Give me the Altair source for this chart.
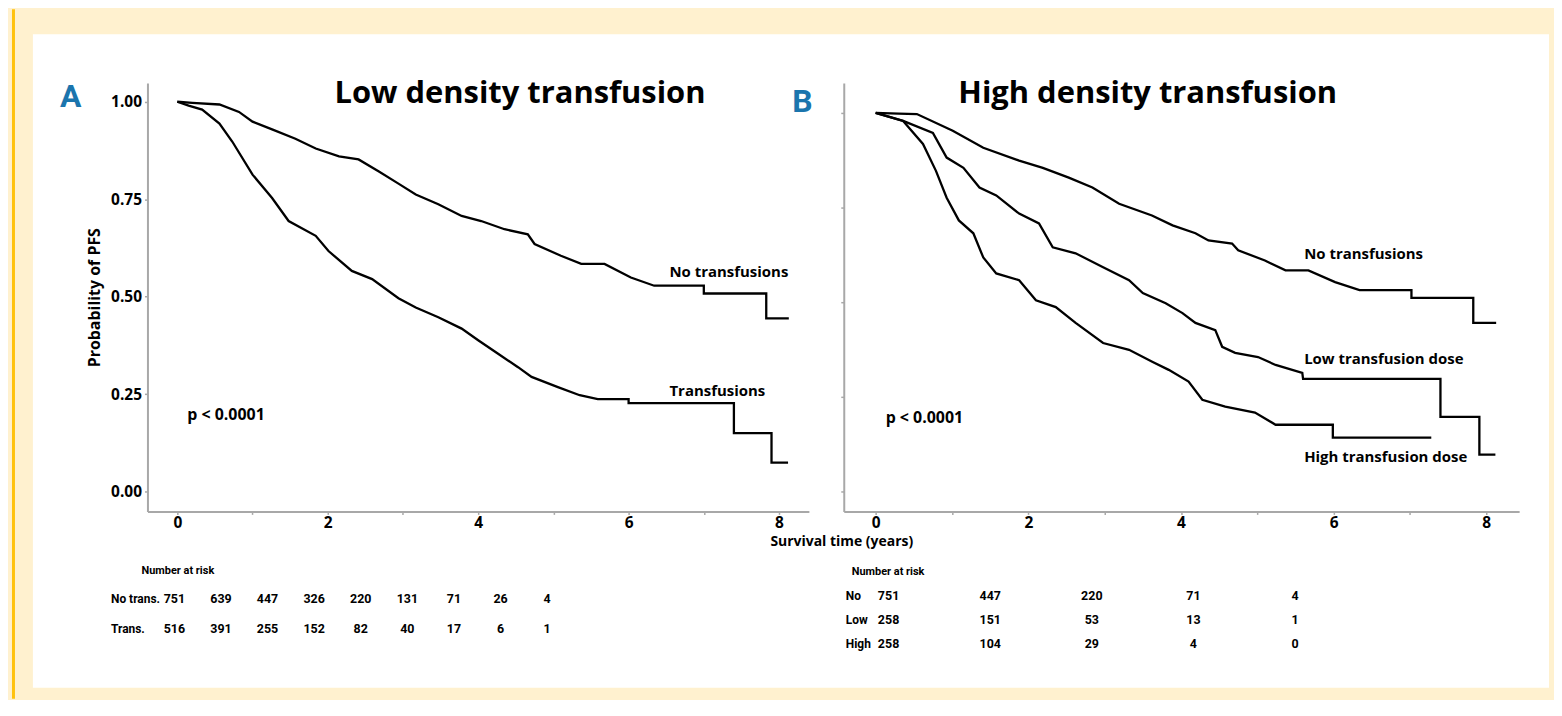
import altair as alt
import pandas as pd

# ---------------- data ----------------
# Panel A (low density transfusion)
a_no_t = [0, 0.2, 0.56, 0.82, 1.0, 1.26, 1.57, 1.84, 2.15, 2.41, 2.68, 2.94, 3.17, 3.47, 3.78, 4.04,
          4.35, 4.66, 4.75, 5.1, 5.37, 5.68, 6.03, 6.34, 7.0, 7.0, 7.83, 7.83, 8.13]
a_no_v = [1.0, 0.997, 0.993, 0.974, 0.949, 0.929, 0.905, 0.88, 0.86, 0.852, 0.821, 0.79, 0.762, 0.737, 0.707,
          0.694, 0.673, 0.66, 0.635, 0.605, 0.584, 0.584, 0.549, 0.528, 0.528, 0.508, 0.508, 0.444, 0.444]
a_tr_t = [0, 0.15, 0.33, 0.56, 0.73, 1.0, 1.26, 1.48, 1.84, 2.01, 2.32, 2.59, 2.94, 3.17, 3.47, 3.78, 4.0,
          4.26, 4.53, 4.71, 5.06, 5.35, 5.59, 6.0, 6.0, 7.4, 7.4, 7.9, 7.9, 8.12]
a_tr_v = [1.0, 0.99, 0.98, 0.944, 0.898, 0.813, 0.753, 0.694, 0.656, 0.617, 0.566, 0.545, 0.496, 0.472, 0.447,
          0.418, 0.388, 0.354, 0.319, 0.294, 0.268, 0.247, 0.237, 0.237, 0.227, 0.227, 0.150, 0.150, 0.074, 0.074]

# Panel B (high density transfusion)
b_no_t = [0, 0.3, 0.54, 1.01, 1.41, 1.88, 2.19, 2.53, 2.84, 3.19, 3.62, 3.89, 4.19, 4.36, 4.67, 4.75, 5.1,
          5.37, 5.67, 6.02, 6.34, 7.02, 7.02, 7.83, 7.83, 8.13]
b_no_v = [1.0, 0.998, 0.997, 0.953, 0.908, 0.874, 0.855, 0.829, 0.803, 0.76, 0.729, 0.703, 0.682, 0.663,
          0.655, 0.637, 0.61, 0.584, 0.584, 0.553, 0.532, 0.532, 0.511, 0.511, 0.445, 0.445]
b_lo_t = [0, 0.36, 0.75, 0.93, 1.15, 1.36, 1.58, 1.88, 2.14, 2.32, 2.62, 2.98, 3.32, 3.5, 3.8, 4.02, 4.19,
          4.45, 4.54, 4.71, 5.01, 5.24, 5.59, 5.6, 7.4, 7.4, 7.91, 7.91, 8.12]
b_lo_v = [1.0, 0.979, 0.947, 0.882, 0.855, 0.803, 0.782, 0.734, 0.708, 0.645, 0.629, 0.592, 0.558, 0.524,
          0.497, 0.471, 0.445, 0.426, 0.382, 0.366, 0.355, 0.334, 0.313, 0.297, 0.297, 0.197, 0.197, 0.097, 0.097]
b_hi_t = [0, 0.36, 0.62, 0.79, 0.93, 1.09, 1.28, 1.41, 1.58, 1.88, 2.1, 2.36, 2.62, 2.98, 3.32, 3.63, 3.84,
          4.1, 4.28, 4.58, 4.97, 5.24, 5.99, 5.99, 7.28]
b_hi_v = [1.0, 0.979, 0.918, 0.847, 0.776, 0.716, 0.682, 0.618, 0.576, 0.558, 0.505, 0.487, 0.445, 0.392,
          0.374, 0.342, 0.321, 0.29, 0.242, 0.224, 0.208, 0.176, 0.176, 0.142, 0.142]

# Number-at-risk tables
a_risk_times = [0, 1, 2, 3, 4, 5, 6, 7, 8]
a_risk_no = [751, 639, 447, 326, 220, 131, 71, 26, 4]
a_risk_trans = [516, 391, 255, 152, 82, 40, 17, 6, 1]
b_risk_times = [0, 2, 4, 6, 8]
b_risk_no = [751, 447, 220, 71, 4]
b_risk_low = [258, 151, 53, 13, 1]
b_risk_high = [258, 104, 29, 4, 0]

y_ticks = [0, 0.25, 0.5, 0.75, 1.0]
x_ticks = [0, 1, 2, 3, 4, 5, 6, 7, 8]

# ---------------- styling ----------------
FONT = "Open Sans"
NARROW = "Roboto"
AXIS_GREY = "#a8a8a8"
BLUE = "#1b75ad"
CREAM = "#FFF1CF"
GOLD = "#FFC20E"


def curve_df(name, t, v):
    return pd.DataFrame({"curve": name, "t": t, "v": v, "i": list(range(len(t)))})


def axis_x():
    return alt.Axis(values=x_ticks, labelExpr="datum.value % 2 == 0 ? datum.label : ''",
                    title=None, grid=False, domain=True, domainColor=AXIS_GREY, domainWidth=2,
                    tickColor=AXIS_GREY, tickSize=3, tickWidth=1.5, labelFont=FONT,
                    labelFontWeight="bold", labelFontSize=15.5, labelColor="black", labelPadding=1,
                    orient="bottom", zindex=2)


def axis_y(with_labels):
    if with_labels:
        return alt.Axis(values=y_ticks, format=".2f", title="Probability of PFS", grid=False, domain=True,
                        domainColor=AXIS_GREY, domainWidth=2, tickColor=AXIS_GREY, tickSize=3,
                        tickWidth=1.5, labelFont=FONT, labelFontWeight="bold", labelFontSize=15.5,
                        labelColor="black", labelPadding=3, titleFont=FONT, titleFontSize=16,
                        titleFontWeight="bold", titleColor="black", titlePadding=8,
                        orient="left", zindex=2)
    return alt.Axis(values=y_ticks, labels=False, title=None, grid=False, domain=True,
                    domainColor=AXIS_GREY, domainWidth=2, tickColor=AXIS_GREY, tickSize=3,
                    tickWidth=1.5, orient="left", zindex=2)


def texts(rows, xs, ys, **mk):
    df = pd.DataFrame(rows, columns=["t", "v", "label"])
    return alt.Chart(df).mark_text(**mk).encode(
        x=alt.X("t:Q", scale=xs, axis=None),
        y=alt.Y("v:Q", scale=ys, axis=None),
        text="label:N",
    )


TITLE = dict(font=FONT, fontSize=31, fontWeight="bold", color="black", align="center", baseline="middle")
LETTER = dict(font=NARROW, fontSize=32, fontWeight="bold", color=BLUE, align="center", baseline="middle")
LABEL = dict(font=FONT, fontSize=15, fontWeight="bold", color="black", align="left", baseline="middle")
PVAL = dict(font=FONT, fontSize=16, fontWeight="bold", color="black", align="left", baseline="middle")
TABLE = dict(font=NARROW, fontSize=12.5, fontWeight="bold", color="black", align="center", baseline="middle")
ROWLAB = dict(font=NARROW, fontSize=12, fontWeight="bold", color="black", align="left", baseline="middle")
HEAD = dict(font=NARROW, fontSize=11, fontWeight="bold", color="black", align="left", baseline="middle")

# ---------------- panel A ----------------
xa = alt.Scale(domain=[-0.397, 8.397], nice=False, zero=False)
ya = alt.Scale(domain=[-0.051, 1.048], nice=False, zero=False)
xta = alt.Scale(domain=[-0.577, 13.617], nice=False, zero=False)

df_a = pd.concat([curve_df("No transfusions", a_no_t, a_no_v),
                  curve_df("Transfusions", a_tr_t, a_tr_v)])

one = pd.DataFrame({"k": [0]})
white_panel = alt.Chart(one).mark_rect(color="white").encode(
    x=alt.value(-115), x2=alt.value(1407), y=alt.value(-49), y2=alt.value(607))
gold_line = alt.Chart(one).mark_rect(color=GOLD).encode(
    x=alt.value(-136), x2=alt.value(-133), y=alt.value(-74), y2=alt.value(618))

lines_a = alt.Chart(df_a).mark_line(color="black", strokeWidth=2.3).encode(
    x=alt.X("t:Q", scale=xa, axis=axis_x()),
    y=alt.Y("v:Q", scale=ya, axis=axis_y(True)),
    detail="curve:N",
    order="i:Q",
)

title_a = texts([(4.556, 1.02, "Low density transfusion")], xa, ya, **TITLE)
letter_a = texts([(-1.417, 1.012, "A")], xa, ya, **LETTER)
labels_a = texts([(6.543, 0.562, "No transfusions"), (6.543, 0.258, "Transfusions")], xa, ya, **LABEL)
pval_a = texts([(0.132, 0.197, "p < 0.0001")], xa, ya, **PVAL)

rows_a = {"No trans.": -0.276, "Trans.": -0.353}
risk_a = pd.DataFrame(
    [{"t": t, "v": rows_a["No trans."], "label": str(n)} for t, n in zip(a_risk_times, a_risk_no)] +
    [{"t": t, "v": rows_a["Trans."], "label": str(n)} for t, n in zip(a_risk_times, a_risk_trans)])
table_a = alt.Chart(risk_a).mark_text(**TABLE).encode(
    x=alt.X("t:Q", scale=xta, axis=None), y=alt.Y("v:Q", scale=ya, axis=None), text="label:N")
rowlab_a = texts([(-1.36, v, k) for k, v in rows_a.items()], xta, ya, **ROWLAB)
head_a = texts([(-0.705, -0.204, "Number at risk")], xta, ya, **HEAD)

panel_a = alt.layer(white_panel, gold_line, lines_a, title_a, letter_a, labels_a, pval_a,
                    table_a, rowlab_a, head_a).resolve_scale(
    x="independent", y="independent").properties(width=664, height=430)

# ---------------- panel B ----------------
xb = alt.Scale(domain=[-0.418, 8.431], nice=False, zero=False)
yb = alt.Scale(domain=[-0.053, 1.079], nice=False, zero=False)
xtb = alt.Scale(domain=[-0.882, 12.41], nice=False, zero=False)

df_b = pd.concat([curve_df("No transfusions", b_no_t, b_no_v),
                  curve_df("Low transfusion dose", b_lo_t, b_lo_v),
                  curve_df("High transfusion dose", b_hi_t, b_hi_v)])

lines_b = alt.Chart(df_b).mark_line(color="black", strokeWidth=2.3).encode(
    x=alt.X("t:Q", scale=xb, axis=axis_x()),
    y=alt.Y("v:Q", scale=yb, axis=axis_y(False)),
    detail="curve:N",
    order="i:Q",
)
title_b = texts([(3.564, 1.05, "High density transfusion")], xb, yb, **TITLE)
letter_b = texts([(-0.96, 1.029, "B")], xb, yb, **LETTER)
labels_b = texts([(5.614, 0.626, "No transfusions"), (5.614, 0.35, "Low transfusion dose"),
                  (5.614, 0.092, "High transfusion dose")], xb, yb, **LABEL)
pval_b = texts([(0.131, 0.195, "p < 0.0001")], xb, yb, **PVAL)
xtitle = texts([(-0.444, -0.135, "Survival time (years)")], xb, yb,
               font=FONT, fontSize=14, fontWeight="bold", color="black", align="center", baseline="middle")

rows_b = {"No": -0.277, "Low": -0.339, "High": -0.403}
risk_b = pd.DataFrame(
    [{"t": t, "v": rows_b["No"], "label": str(n)} for t, n in zip(b_risk_times, b_risk_no)] +
    [{"t": t, "v": rows_b["Low"], "label": str(n)} for t, n in zip(b_risk_times, b_risk_low)] +
    [{"t": t, "v": rows_b["High"], "label": str(n)} for t, n in zip(b_risk_times, b_risk_high)])
table_b = alt.Chart(risk_b).mark_text(**TABLE).encode(
    x=alt.X("t:Q", scale=xtb, axis=None), y=alt.Y("v:Q", scale=yb, axis=None), text="label:N")
rowlab_b = texts([(-0.843, v, k) for k, v in rows_b.items()], xtb, yb, **ROWLAB)
head_b = texts([(-0.725, -0.214, "Number at risk")], xtb, yb, **HEAD)

panel_b = alt.layer(lines_b, title_b, letter_b, labels_b, pval_b, xtitle,
                    table_b, rowlab_b, head_b).resolve_scale(
    x="independent", y="independent").properties(width=678, height=430)

chart = alt.hconcat(panel_a, panel_b, spacing=35, bounds="flush").properties(
    padding={"left": 4, "top": 0, "right": 5, "bottom": 0},
    background=CREAM,
).configure_view(strokeWidth=0)

chart.save("out.html", embed_options={"renderer": "svg", "actions": False})
